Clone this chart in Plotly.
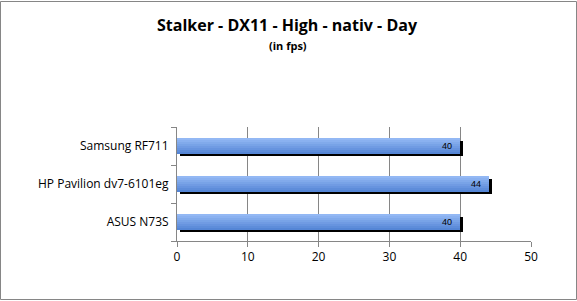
import plotly.graph_objects as go

categories = ["ASUS N73S", "HP Pavilion dv7-6101eg", "Samsung RF711"]
fps = [40, 44, 40]
x_ticks = [0, 10, 20, 30, 40, 50]

W, H = 577, 301
L, R, T, B = 177, 46, 127, 60

bar_w = 0.40
shadow_dx = 0.45     # data units to the right
shadow_dy = 0.075    # category units down
top_col = (0x93, 0xB8, 0xF4)
bot_col = (0x55, 0x86, 0xD6)
n_strips = 8

fig = go.Figure()

# shadow
fig.add_trace(go.Bar(
    y=categories, x=fps, base=shadow_dx, orientation="h",
    width=bar_w, offset=-bar_w / 2 - shadow_dy,
    marker=dict(color="black", line=dict(width=0)),
    hoverinfo="skip", showlegend=False))

# gradient strips (top light -> bottom dark)
sw = bar_w / n_strips
for i in range(n_strips):
    t = i / (n_strips - 1)
    c = tuple(round(top_col[k] + (bot_col[k] - top_col[k]) * t) for k in range(3))
    off = bar_w / 2 - (i + 1) * sw
    fig.add_trace(go.Bar(
        y=categories, x=fps, orientation="h",
        width=sw * 1.02, offset=off,
        marker=dict(color="rgb(%d,%d,%d)" % c, line=dict(width=0)),
        hoverinfo="skip", showlegend=False))

# labels
fig.add_trace(go.Bar(
    y=categories, x=fps, orientation="h",
    width=bar_w, offset=-bar_w / 2,
    marker=dict(color="rgba(0,0,0,0)", line=dict(width=0)),
    text=[f"{v}\u2007" for v in fps], textposition="inside",
    insidetextanchor="end", constraintext="none",
    textfont=dict(family="Liberation Sans", size=9, color="black"),
    showlegend=False))

pw = W - L - R
ph = H - T - B
fig.add_shape(type="rect", xref="paper", yref="paper",
              x0=-(L - 0.5) / pw, x1=(pw + R - 0.5) / pw,
              y0=-(B - 1.5) / ph, y1=(ph + T - 1.5) / ph,
              line=dict(color="#868686", width=1), layer="above")

fig.update_layout(
    width=W, height=H, margin=dict(l=L, r=R, t=T, b=B),
    paper_bgcolor="white", plot_bgcolor="white",
    barmode="overlay", bargap=0,
    font=dict(family="Open Sans", size=11, color="black"),
    title=dict(text="<b>Stalker - DX11 - High - nativ - Day</b>",
               x=(287) / W, xanchor="center", xref="container",
               y=1 - 25 / H, yanchor="middle", yref="container",
               font=dict(family="Open Sans", size=16, color="black")),
    annotations=[dict(text="<b>(in fps)</b>", xref="paper", yref="paper",
                      x=(288 - L) / pw, y=(H - 45 - B) / ph, showarrow=False,
                      xanchor="center", yanchor="middle",
                      font=dict(family="Open Sans", size=11, color="black"))],
    xaxis=dict(range=[0, 50], tickvals=x_ticks, ticktext=[str(v) for v in x_ticks],
               showgrid=True, gridcolor="#868686", gridwidth=1,
               showline=True, linecolor="#868686", linewidth=1,
               ticks="outside", ticklen=5, tickcolor="#868686",
               tickfont=dict(size=12), zeroline=False, fixedrange=True),
    yaxis=dict(categoryorder="array", categoryarray=categories,
               showline=True, linecolor="#868686", linewidth=1,
               ticks="outside", ticklen=5, tickcolor="#868686",
               tickson="boundaries", showgrid=False, ticklabelstandoff=5,
               tickfont=dict(size=12), fixedrange=True),
)

fig.write_html("out.html")
